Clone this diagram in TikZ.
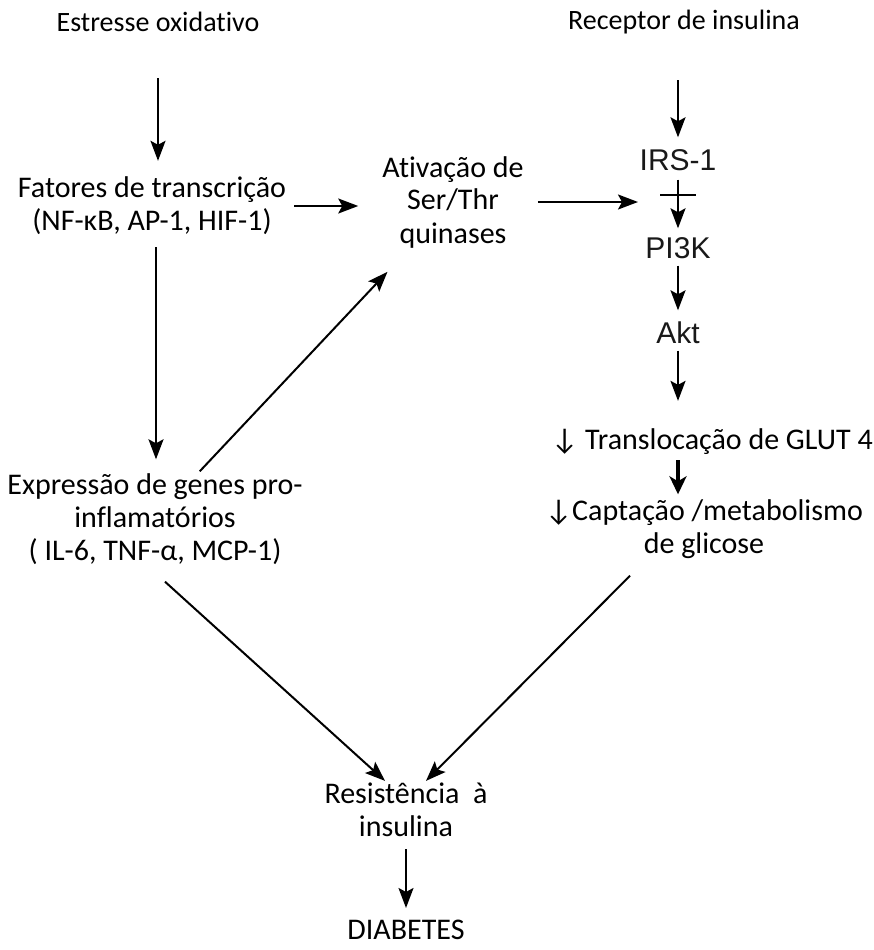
\documentclass[tikz,border=0pt]{standalone}
\usepackage{fontspec}
\setmainfont{Carlito}[Ligatures=NoCommon]
\newfontfamily\arialfont{Liberation Sans}
\usetikzlibrary{arrows.meta,calc}

\begin{document}
\begin{tikzpicture}[x=1pt,y=-1pt,
    txt/.style={align=center,inner sep=2pt,font=\fontsize{30}{33}\selectfont},
    top/.style={txt,font=\fontsize{28}{33}\selectfont},
    prot/.style={inner sep=2pt,text height=21pt,text depth=0pt,font=\arialfont\fontsize{30}{33}\selectfont,text=black!90},
    seta/.style={-{Stealth[length=20pt,width=15pt,inset=4pt]},line width=2pt},
    setab/.style={-{Stealth[length=18pt,width=17pt,inset=5pt]},line width=3.4pt}]
    \useasboundingbox (0,0) rectangle (874,950);

    \node[top] (est) at (158,22) {Estresse oxidativo};
    \node[top] (rec) at (684,22) {Receptor de insulina};
    \node[txt] (fat) at (152,206) {Fatores de transcrição\\(NF-κB, AP-1, HIF-1)};
    \node[txt] (ativ) at (453,202) {Ativação de\\Ser/Thr\\quinases};
    \node[prot] (irs) at (678,160) {IRS-1};
    \node[prot] (pi3k) at (678,248) {PI3K};
    \node[prot] (akt) at (678,333) {Akt};
    \node[txt] (transl) at (712,442) {↓ Translocação de GLUT 4};
    \node[txt] (capt) at (704,529) {↓Captação /metabolismo\\de glicose};
    \node[txt] (expr) at (155,519) {Expressão de genes pro-\\inflamatórios\\( IL-6, TNF-α, MCP-1)};
    \node[txt] (res) at (406,810) {Resistência~~à\\insulina};
    \node[txt] (diab) at (406,930) {DIABETES};
    \coordinate (bar) at (678,195);
    \coordinate (inh) at (638,202);

    \path[seta] (est.south) edge [shorten <=44pt,shorten >=14pt] (est.south |- fat.north);
    \path[seta] ([xshift=4pt]fat.south) edge [shorten <=10pt,shorten >=12pt] ([xshift=4pt]fat.south |- expr.north);
    \path[seta] (fat.east) edge [shorten <=6pt,shorten >=22pt] (fat.east -| ativ.west);
    \path[seta] (expr) edge [shorten >=30pt] (ativ);
    \path[seta] (ativ.east) edge [shorten <=12pt] (inh);
    \path[seta] (irs.north |- rec.south) edge [shorten <=44pt,shorten >=10pt] (irs.north);
    \path[seta] (irs.south) edge [shorten <=7pt,shorten >=7pt] (pi3k.north);
    \path[seta] (pi3k.south) edge [shorten <=5pt,shorten >=10pt] (akt.north);
    \path[seta] (akt.south) edge [shorten <=5pt,shorten >=26pt] (akt.south |- transl.north);
    \path[setab] (akt.south |- transl.south) edge [shorten <=3pt,shorten >=3pt] (akt.south |- capt.north);
    \draw[line width=2.4pt] ($(bar)+(-18,0)$) -- ($(bar)+(18,0)$);
    \path[seta] ([xshift=10pt,yshift=-15pt]expr.south) edge ([xshift=-21pt]res.north);
    \path[seta] ([xshift=-74pt,yshift=-15pt]capt.south) edge ([xshift=20pt]res.north);
    \path[seta] (res.south) edge [shorten <=10pt,shorten >=10pt] (diab.north);
\end{tikzpicture}
\end{document}
